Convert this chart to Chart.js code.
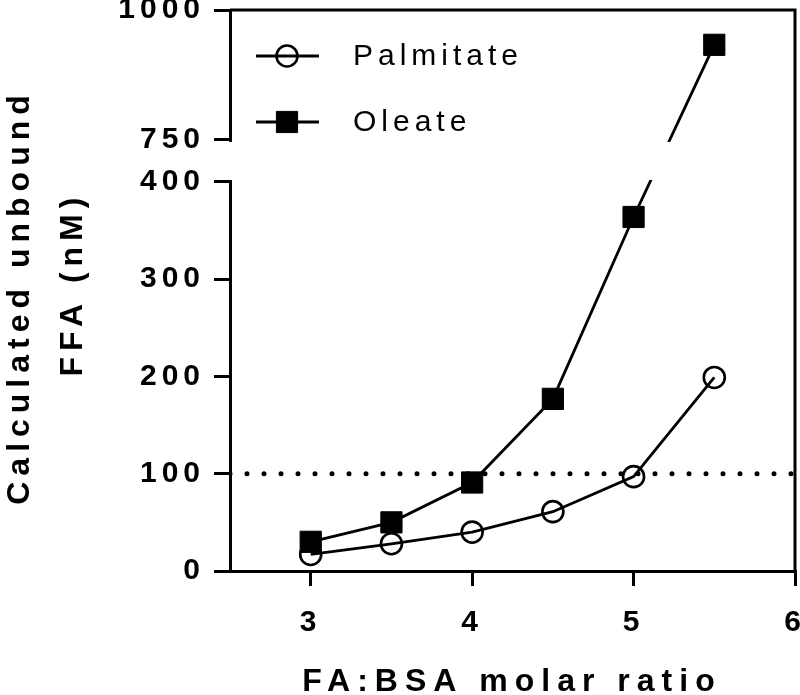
<!DOCTYPE html>
<html lang="en">
<head>
  <meta charset="UTF-8">
  <title>Calculated unbound FFA</title>
  <script src="https://cdn.jsdelivr.net/npm/chart.js"></script>
  <style>
    html, body { margin: 0; padding: 0; background: #fff; }
    #wrap { width: 800px; height: 695px; }
  </style>
</head>
<body>

<div id="wrap">
  <canvas id="ffaChart" width="800" height="695"></canvas>
</div>

<script>
// data
const ratios = [3, 3.5, 4, 4.5, 5, 5.5];
const palmitate = [17, 28, 40, 61, 97, 199];
const oleate = [30, 50, 91, 177, 364, 933];
const seriesNames = ['Palmitate', 'Oleate'];
const xTicks = [3, 4, 5, 6];
const yTicks = [0, 100, 200, 300, 400, 750, 1000];
const refLevel = 100;
const xTitle = 'FA:BSA molar ratio';
const yTitle = ['Calculated unbound', 'FFA (nM)'];

// broken y axis: 0-400 below, 750-1000 above
const BREAK_LO = 400, BREAK_HI = 750, TOP = 1000;
const GAP = 43.2;                 // gap size in lower-segment units
const UPPER = 133.6;              // upper segment height in lower-segment units
const VMAX = BREAK_LO + GAP + UPPER;

function toVirtual(v) {
  if (v <= BREAK_LO) return v;
  if (v >= BREAK_HI) return BREAK_LO + GAP + (v - BREAK_HI) * UPPER / (TOP - BREAK_HI);
  return BREAK_LO + (v - BREAK_LO) * GAP / (BREAK_HI - BREAK_LO);
}
function fromVirtual(u) {
  if (u <= BREAK_LO) return u;
  if (u >= BREAK_LO + GAP) return BREAK_HI + (u - BREAK_LO - GAP) * (TOP - BREAK_HI) / UPPER;
  return BREAK_LO + (u - BREAK_LO) * (BREAK_HI - BREAK_LO) / GAP;
}

class BrokenLinearScale extends Chart.LinearScale {
  getPixelForValue(value) {
    return super.getPixelForValue(toVirtual(value));
  }
  getValueForPixel(pixel) {
    return fromVirtual(super.getValueForPixel(pixel));
  }
  buildTicks() {
    return yTicks.map(v => ({ value: v }));
  }
}
BrokenLinearScale.id = 'brokenLinear';
BrokenLinearScale.defaults = Chart.LinearScale.defaults;
Chart.register(BrokenLinearScale);

const FONT = "'Liberation Sans', Arial, Helvetica, sans-serif";

const pts = ys => ratios.map((x, i) => ({ x: x, y: ys[i] }));

// axis break, frame, legend and titles
const decorPlugin = {
  id: 'decor',
  beforeDraw(chart) {
    chart.ctx.letterSpacing = '5px';
  },
  afterDatasetsDraw(chart) {
    const { ctx, chartArea: a } = chart;
    const y = chart.scales.y;
    const yHi = y.getPixelForValue(BREAK_HI);
    const yLo = y.getPixelForValue(BREAK_LO);
    ctx.save();
    ctx.fillStyle = '#fff';
    ctx.fillRect(a.left - 4, yHi + 2, a.right - a.left, yLo - yHi - 4);
    // top and right frame lines
    ctx.strokeStyle = '#000';
    ctx.lineWidth = 3;
    ctx.beginPath();
    ctx.moveTo(a.left, a.top);
    ctx.lineTo(a.right + 1.5, a.top);
    ctx.moveTo(a.right, a.top);
    ctx.lineTo(a.right, a.bottom);
    ctx.stroke();
    ctx.restore();
  },
  afterDraw(chart) {
    const { ctx, chartArea: a } = chart;
    ctx.save();
    // legend
    ctx.letterSpacing = '5px';
    ctx.font = '30px ' + FONT;
    ctx.textBaseline = 'middle';
    ctx.textAlign = 'left';
    seriesNames.forEach((name, i) => {
      const ds = chart.data.datasets[i];
      const ly = a.top + 46 + i * 66;
      ctx.strokeStyle = ds.borderColor;
      ctx.lineWidth = ds.borderWidth;
      ctx.beginPath();
      ctx.moveTo(a.left + 26, ly);
      ctx.lineTo(a.left + 89, ly);
      ctx.stroke();
      ctx.fillStyle = ds.pointBackgroundColor;
      ctx.strokeStyle = ds.pointBorderColor;
      ctx.lineWidth = ds.pointBorderWidth;
      Chart.helpers.drawPoint(ctx, {
        pointStyle: ds.pointStyle, radius: ds.pointRadius,
        borderWidth: ds.pointBorderWidth, rotation: 0
      }, a.left + 57, ly);
      ctx.fillStyle = '#000';
      ctx.fillText(name, a.left + 123, ly + 1);
    });
    // axis titles
    ctx.font = 'bold 32px ' + FONT;
    ctx.fillStyle = '#000';
    ctx.textAlign = 'center';
    ctx.textBaseline = 'alphabetic';
    ctx.letterSpacing = '7px';
    ctx.fillText(xTitle, 512, 691);
    ctx.letterSpacing = '6px';
    const lineX = [29, 82];
    const lineY = [297, 284];
    yTitle.forEach((t, i) => {
      ctx.save();
      ctx.translate(lineX[i], lineY[i]);
      ctx.rotate(-Math.PI / 2);
      ctx.fillText(t, 0, 0);
      ctx.restore();
    });
    ctx.restore();
    ctx.letterSpacing = '0px';
  }
};

new Chart(document.getElementById('ffaChart'), {
  type: 'line',
  data: {
    datasets: [
      {
        label: seriesNames[0],
        data: pts(palmitate),
        borderColor: '#000',
        borderWidth: 2.8,
        pointStyle: 'circle',
        pointRadius: 10.5,
        pointBorderWidth: 2.6,
        pointBorderColor: '#000',
        pointBackgroundColor: 'rgba(0,0,0,0)',
        order: 1
      },
      {
        label: seriesNames[1],
        data: pts(oleate),
        borderColor: '#000',
        borderWidth: 2.8,
        pointStyle: 'rect',
        pointRadius: 15,
        pointBorderWidth: 1,
        pointBorderColor: '#000',
        pointBackgroundColor: '#000',
        order: 0
      },
      {
        label: 'reference',
        data: [{ x: 2.5, y: refLevel }, { x: 6, y: refLevel }],
        borderColor: '#000',
        borderWidth: 5,
        borderDash: [0, 17],
        borderCapStyle: 'round',
        pointRadius: 0,
        order: 2
      }
    ]
  },
  options: {
    responsive: false,
    animation: false,
    events: [],
    layout: { autoPadding: false, padding: { top: 10, right: 5, left: 0, bottom: 0 } },
    plugins: { legend: { display: false }, tooltip: { enabled: false } },
    scales: {
      x: {
        type: 'linear',
        min: 2.5,
        max: 6,
        afterBuildTicks: s => { s.ticks = xTicks.map(v => ({ value: v })); },
        afterFit: s => { s.height = 124; s.paddingLeft = 0; s.paddingRight = 0; },
        grid: { drawOnChartArea: false, drawTicks: true, tickLength: 15, color: '#000', lineWidth: 3 },
        border: { display: true, color: '#000', width: 3 },
        ticks: {
          color: '#000',
          padding: 19,
          maxRotation: 0,
          font: { family: FONT, size: 30, weight: 'bold' },
          callback: v => String(v)
        }
      },
      y: {
        type: 'brokenLinear',
        min: 0,
        max: VMAX,
        afterFit: s => { s.width = 230; s.paddingTop = 0; s.paddingBottom = 0; },
        grid: { drawOnChartArea: false, drawTicks: true, tickLength: 16, color: '#000', lineWidth: 3 },
        border: { display: true, color: '#000', width: 3 },
        ticks: {
          color: '#000',
          padding: 9,
          font: { family: FONT, size: 30, weight: 'bold' },
          callback: v => String(v)
        }
      }
    }
  },
  plugins: [decorPlugin]
});
</script>

</body>
</html>
